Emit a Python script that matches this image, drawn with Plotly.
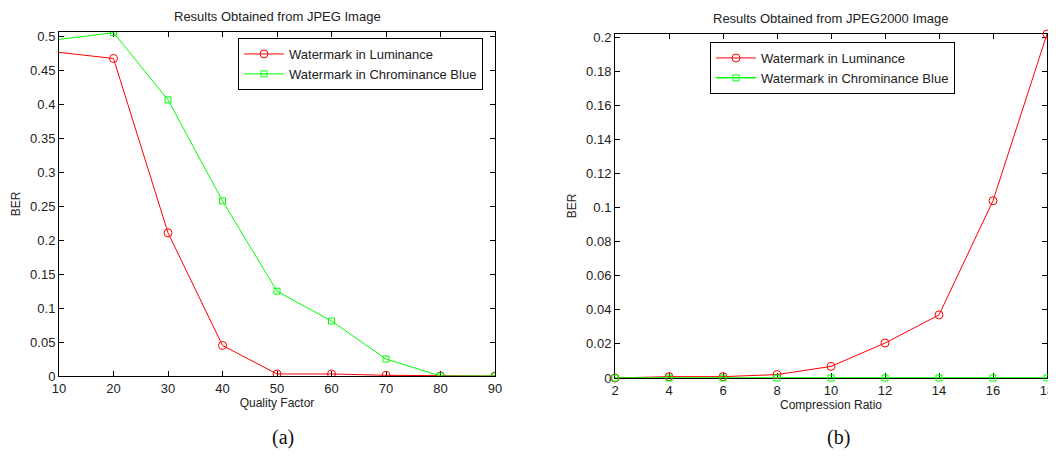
import plotly.graph_objects as go

# ---- data (a) JPEG ----
quality_factor = [0, 20, 30, 40, 50, 60, 70, 80, 90]
ber_lum_jpeg = [0.486, 0.468, 0.211, 0.045, 0.003, 0.003, 0.001, 0.0, 0.0]
ber_cb_jpeg = [0.486, 0.506, 0.407, 0.258, 0.125, 0.081, 0.025, 0.0, 0.0]

# ---- data (b) JPEG2000 ----
compression_ratio = [2, 4, 6, 8, 10, 12, 14, 16, 18]
ber_lum_j2k = [0.0, 0.0008, 0.0008, 0.002, 0.0068, 0.0205, 0.037, 0.104, 0.2018]
ber_cb_j2k = [0.0, 0.0, 0.0, 0.0, 0.0, 0.0, 0.0, 0.0, 0.0]

ticks_a_x = [10, 20, 30, 40, 50, 60, 70, 80, 90]
ticks_a_y = [0, 0.05, 0.1, 0.15, 0.2, 0.25, 0.3, 0.35, 0.4, 0.45, 0.5]
ticks_b_x = [2, 4, 6, 8, 10, 12, 14, 16, 18]
ticks_b_y = [0, 0.02, 0.04, 0.06, 0.08, 0.1, 0.12, 0.14, 0.16, 0.18, 0.2]

series_names = ["Watermark in Luminance", "Watermark in Chrominance Blue"]
RED = "#ff0000"
GREEN = "#00ff00"
FONT = "Liberation Sans, Arial, sans-serif"
OFF = 8  # page body margin
W, H = 1056 - OFF, 460 - OFF

fig = go.Figure()

def add(x, y, name, color, symbol, size, xa, ya, legend, clip, width=1):
    fig.add_trace(go.Scatter(
        x=x, y=y, name=name, mode="lines+markers",
        line=dict(color=color, width=width),
        marker=dict(symbol=symbol, size=size, color=color, line=dict(color=color, width=1)),
        xaxis=xa, yaxis=ya, legend=legend, cliponaxis=clip,
    ))

add(quality_factor, ber_lum_jpeg, series_names[0], RED, "circle-open", 8, "x", "y", "legend", True)
add(quality_factor, ber_cb_jpeg, series_names[1], GREEN, "square-open", 6, "x", "y", "legend", True)
add(compression_ratio, ber_lum_j2k, series_names[0], RED, "circle-open", 8, "x2", "y2", "legend2", False)
add(compression_ratio, ber_cb_j2k, series_names[1], GREEN, "square-open", 6, "x2", "y2", "legend2", False, 1.5)

axis_common = dict(
    showgrid=False, zeroline=False, showline=True, linecolor="black", linewidth=1,
    mirror="ticks", ticks="inside", ticklen=5, tickcolor="black", automargin=False,
    layer="below traces",
    tickfont=dict(family=FONT, size=13, color="#222"),
)

def px_x(p):
    return (p - OFF) / W

def px_y(p):
    return 1 - (p - OFF) / H

fig.update_layout(
    width=W, height=H,
    margin=dict(l=0, r=0, t=0, b=0, autoexpand=False),
    paper_bgcolor="white", plot_bgcolor="white",
    font=dict(family=FONT, color="#222"),
    xaxis=dict(domain=[px_x(59), px_x(495)], range=[10, 90], tickvals=ticks_a_x, anchor="y",
               title=dict(text="Quality Factor", font=dict(size=12), standoff=2), **axis_common),
    yaxis=dict(domain=[px_y(376), px_y(32)], range=[0, 0.507], tickvals=ticks_a_y, anchor="x",
               ticktext=[f"{v:g}" for v in ticks_a_y],
               title=dict(text="BER", font=dict(size=12), standoff=6), **axis_common),
    xaxis2=dict(domain=[px_x(615), px_x(1047)], range=[2, 18], tickvals=ticks_b_x, anchor="y2",
                title=dict(text="Compression Ratio", font=dict(size=12), standoff=2), **axis_common),
    yaxis2=dict(domain=[px_y(378), px_y(34)], range=[0, 0.2018], tickvals=ticks_b_y, anchor="x2",
                ticktext=[f"{v:g}" for v in ticks_b_y],
                title=dict(text="BER", font=dict(size=12), standoff=6), **axis_common),
    legend=dict(x=px_x(238), xanchor="left", y=px_y(38), yanchor="top",
                bordercolor="black", borderwidth=1, bgcolor="white",
                font=dict(family=FONT, size=13, color="#222"),
                tracegroupgap=0, itemwidth=40),
    legend2=dict(x=px_x(710), xanchor="left", y=px_y(42), yanchor="top",
                 bordercolor="black", borderwidth=1, bgcolor="white",
                 font=dict(family=FONT, size=13, color="#222"),
                 tracegroupgap=0, itemwidth=40),
    showlegend=True,
)

# titles
fig.add_annotation(text="Results Obtained from JPEG Image", x=px_x(277), y=px_y(16),
                   xref="paper", yref="paper", showarrow=False, xanchor="center", yanchor="middle",
                   font=dict(family=FONT, size=13, color="#222"))
fig.add_annotation(text="Results Obtained from JPEG2000 Image", x=px_x(831), y=px_y(19),
                   xref="paper", yref="paper", showarrow=False, xanchor="center", yanchor="middle",
                   font=dict(family=FONT, size=13, color="#222"))

# captions
fig.add_annotation(text="(a)", x=px_x(283), y=px_y(437), xref="paper", yref="paper",
                   showarrow=False, xanchor="center", yanchor="middle",
                   font=dict(family="Liberation Serif, Times New Roman, serif", size=20, color="#111"))
fig.add_annotation(text="(b)", x=px_x(838), y=px_y(437), xref="paper", yref="paper",
                   showarrow=False, xanchor="center", yanchor="middle",
                   font=dict(family="Liberation Serif, Times New Roman, serif", size=20, color="#111"))

fig.write_html("out.html")
